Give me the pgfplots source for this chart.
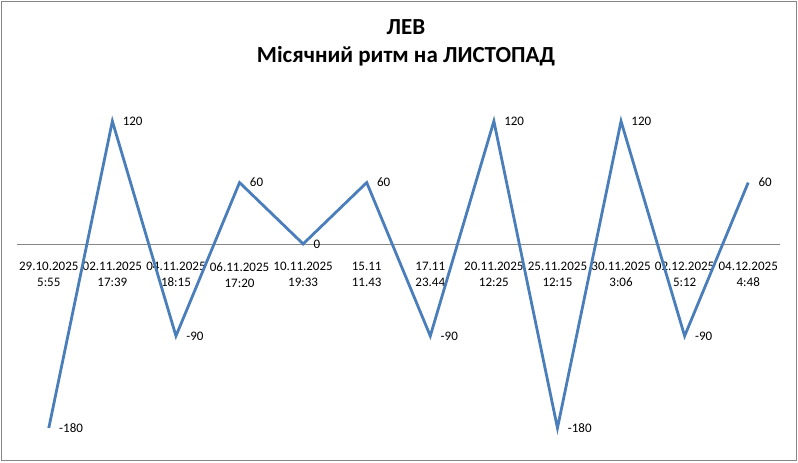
\documentclass[border=0pt]{standalone}
\usepackage{fontspec}
\setmainfont{Carlito}
\usepackage{pgfplots}
\pgfplotsset{compat=1.18}
\definecolor{excelblue}{RGB}{74,126,187}
\definecolor{axisgray}{RGB}{134,134,134}
\definecolor{framegray}{RGB}{134,134,134}
\begin{document}
\begin{tikzpicture}
\path[use as bounding box] (-17pt,-14.5pt) rectangle (781pt,448.5pt);
\begin{axis}[
  at={(0,0)}, anchor=south west,
  scale only axis, width=763pt, height=358pt,
  xmin=-0.5, xmax=11.5, ymin=-200, ymax=150,
  axis x line=middle, axis y line=none,
  x axis line style={-, draw=axisgray, line width=0.8pt},
  xtick={0,...,11}, major tick length=0pt,
  xticklabels={{29.10.2025\\5:55},{02.11.2025\\17:39},{04.11.2025\\18:15},{06.11.2025\\17:20},{10.11.2025\\19:33},{15.11\\11.43},{17.11\\23.44},{20.11.2025\\12:25},{25.11.2025\\12:15},{30.11.2025\\3:06},{02.12.2025\\5:12},{04.12.2025\\4:48}},
  xticklabel style={align=center, font=\fontsize{13}{16}\selectfont, anchor=north, yshift=-15pt},
  nodes near coords,
  nodes near coords style={anchor=west, xshift=9pt, inner sep=0pt, font=\fontsize{13}{16}\selectfont, text=black},
  /pgf/number format/assume math mode=true,
  clip=false,
]
\addplot[color=excelblue, line width=2.8pt, mark=none] coordinates {
  (0,-180) (1,120) (2,-90) (3,60) (4,0) (5,60)
  (6,-90) (7,120) (8,-180) (9,120) (10,-90) (11,60)
};
\end{axis}
\draw[framegray, line width=1pt] (-15.5pt,-12.5pt) rectangle (779pt,447pt);
\node[anchor=base, font=\fontsize{23}{27}\selectfont\bfseries, inner sep=0pt] at (389pt,414.2pt) {ЛЕВ};
\node[anchor=base, font=\fontsize{23}{27}\selectfont\bfseries, inner sep=0pt] at (389pt,385.8pt) {Місячний ритм на ЛИСТОПАД};
\end{tikzpicture}
\end{document}
